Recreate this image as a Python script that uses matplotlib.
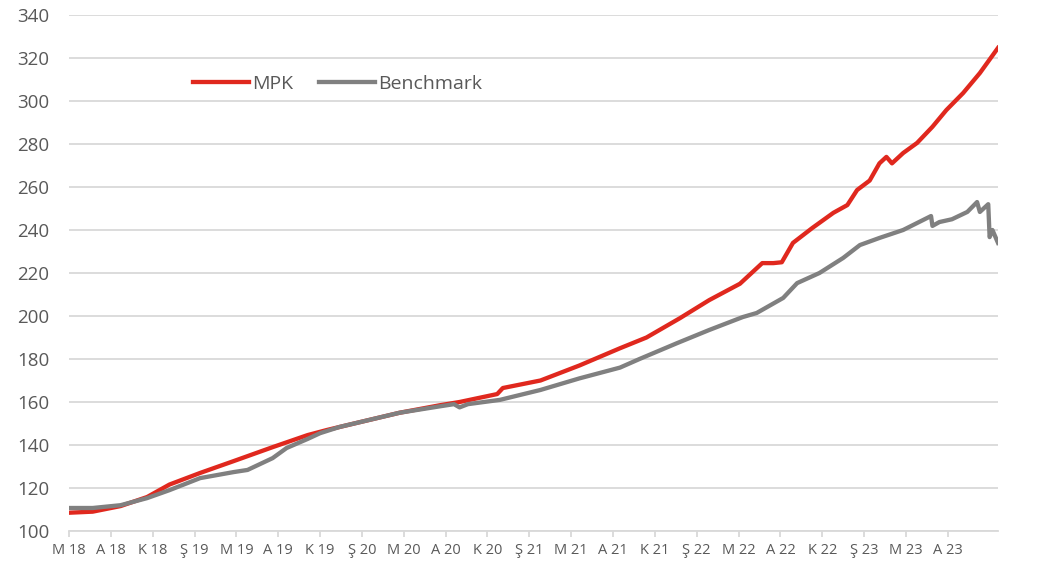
import matplotlib
matplotlib.use("Agg")
import matplotlib.pyplot as plt

# months since May 2018 and index values
mpk_months = [0, 1.7, 3.7, 5.6, 7.2, 9.4, 11.8, 14.6, 17.1, 18.5, 20.9, 23.7, 26.6, 28.0,
              30.7, 31.1, 33.8, 36.6, 39.5, 41.4, 43.8, 45.9, 48.1, 49.7, 50.5, 51.1, 51.9,
              53.3, 54.8, 55.8, 56.5, 57.4, 58.1, 58.6, 59.0, 59.8, 60.8, 61.9, 62.9, 64.1,
              65.3, 66.6]
mpk_values = [108.5, 109.0, 111.6, 115.8, 121.6, 127.0, 132.5, 139.0, 144.6, 147.0, 150.7,
              155.0, 158.5, 160.0, 163.7, 166.5, 170.0, 177.0, 185.0, 190.0, 199.0, 207.4,
              215.0, 224.6, 224.6, 225.0, 234.0, 241.0, 248.0, 251.6, 258.6, 263.0, 271.0,
              274.0, 271.0, 275.8, 280.5, 288.0, 295.8, 303.7, 313.0, 324.7]

bench_months = [0, 1.7, 3.7, 5.6, 7.2, 9.4, 11.8, 12.8, 14.6, 15.6, 17.1, 18.0, 19.4, 20.9,
                23.7, 26.6, 27.6, 28.0, 28.6, 30.9, 33.8, 36.6, 39.5, 40.9, 43.6, 45.9, 48.3,
                49.3, 51.2, 52.2, 53.8, 55.5, 56.7, 58.1, 59.8, 61.8, 61.9, 62.4, 63.3, 64.4,
                65.1, 65.3, 65.9, 66.0, 66.2, 66.6]
bench_values = [110.7, 110.7, 112.0, 115.3, 119.0, 124.6, 127.4, 128.4, 133.9, 138.6, 142.8,
                145.5, 148.4, 150.7, 155.0, 158.0, 159.0, 157.5, 159.0, 161.0, 165.6, 171.0,
                176.0, 180.0, 187.4, 193.5, 199.5, 201.4, 208.4, 215.3, 220.0, 227.0, 233.0,
                236.3, 240.0, 246.5, 241.9, 243.7, 245.0, 248.4, 253.0, 248.4, 252.0, 236.7,
                240.0, 234.0]

tick_months = list(range(0, 64, 3))
tick_labels = ["M 18", "A 18", "K 18", "Ş 19", "M 19", "A 19", "K 19", "Ş 20", "M 20", "A 20",
               "K 20", "Ş 21", "M 21", "A 21", "K 21", "Ş 22", "M 22", "A 22", "K 22", "Ş 23",
               "M 23", "A 23"]

plt.rcParams['font.family'] = ['Open Sans', 'DejaVu Sans']
text_color = '#595959'
grid_color = '#D9D9D9'

fig = plt.figure(figsize=(10.54, 5.66), dpi=100)
ax = fig.add_axes([69 / 1054, 1 - 531 / 566, (998 - 69) / 1054, (531 - 15) / 566])

ax.plot(mpk_months, mpk_values, color='#E0281E', lw=3.1, label='MPK', solid_joinstyle='round')
ax.plot(bench_months, bench_values, color='#808080', lw=3.1, label='Benchmark',
        solid_joinstyle='round')

ax.set_xlim(0, 66.6)
ax.set_ylim(100, 340)
ax.set_yticks(range(100, 341, 20))
ax.set_xticks(tick_months)
ax.set_xticklabels(tick_labels)

ax.grid(axis='y', color=grid_color, lw=1.3)
ax.set_axisbelow(True)
for side in ['top', 'right', 'left']:
    ax.spines[side].set_visible(False)
ax.spines['bottom'].set_color(grid_color)
ax.spines['bottom'].set_linewidth(1.3)

ax.tick_params(axis='y', length=0, pad=14, labelsize=13.5, labelcolor=text_color)
ax.tick_params(axis='x', length=4, width=1.3, color=grid_color, pad=5,
               labelsize=10.5, labelcolor=text_color)

fig.legend(loc='center left', bbox_to_anchor=(193 / 1054, 1 - 84 / 566),
           bbox_transform=fig.transFigure, ncol=2, frameon=False, fontsize=14,
           handlelength=2.9, handletextpad=0.15, columnspacing=1.3, borderpad=0,
           borderaxespad=0, labelcolor=text_color)

fig.savefig('out.png', dpi=100)
